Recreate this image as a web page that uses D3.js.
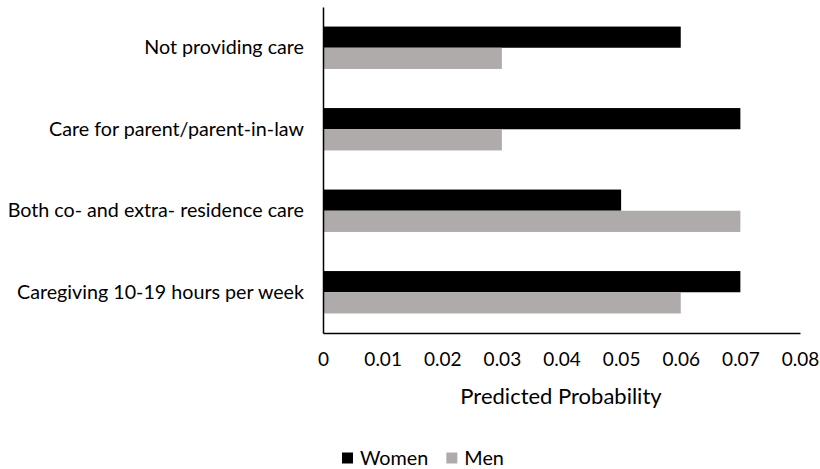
<!DOCTYPE html>
<html>
<head>
<meta charset="utf-8">
<script src="https://cdn.jsdelivr.net/npm/d3@7"></script>
<style>
  body { margin: 0; background: #fff; }
  svg { display: block; }
  text { font-family: Lato, "Noto Sans", sans-serif; fill: #000; }
</style>
</head>
<body>
<svg id="chart" width="820" height="469"></svg>
<script>
// Predicted probability by caregiving status
const categories = [
  "Not providing care",
  "Care for parent/parent-in-law",
  "Both co- and extra- residence care",
  "Caregiving 10-19 hours per week"
];
const seriesNames = ["Women", "Men"];
const women = [0.06, 0.07, 0.05, 0.07];
const men = [0.03, 0.03, 0.07, 0.06];
const xTicks = [0, 0.01, 0.02, 0.03, 0.04, 0.05, 0.06, 0.07, 0.08];
const tickLabels = ["0", "0.01", "0.02", "0.03", "0.04", "0.05", "0.06", "0.07", "0.08"];
const colors = ["#000000", "#afabab"];

const svg = d3.select("#chart");
const plotLeft = 323, plotRight = 800, plotTop = 7, plotBottom = 333;

const x = d3.scaleLinear().domain([0, 0.08]).range([plotLeft, plotRight]);
const y = d3.scaleBand().domain(categories).range([plotTop, plotBottom]).paddingInner(0.48).paddingOuter(0.24);
const sub = d3.scaleBand().domain(seriesNames).range([0, y.bandwidth()]);

const rows = categories.map((c, i) => ({ cat: c, values: [women[i], men[i]] }));

// bars
const g = svg.append("g");
rows.forEach(r => {
  r.values.forEach((v, j) => {
    g.append("rect")
      .attr("x", x(0))
      .attr("y", y(r.cat) + sub(seriesNames[j]))
      .attr("width", x(v) - x(0))
      .attr("height", sub.bandwidth())
      .attr("fill", colors[j]);
  });
});

// x axis
const xAxis = d3.axisBottom(x).tickValues(xTicks).tickFormat((d, i) => tickLabels[i]).tickSize(0).tickPadding(20);
const xg = svg.append("g").attr("transform", `translate(0,${plotBottom})`).call(xAxis);
xg.select(".domain").attr("stroke", "#000").attr("stroke-width", 1.5);
xg.selectAll("text").attr("font-size", 19).attr("font-family", "Lato, sans-serif").attr("fill", "#000");

// y axis
const yAxis = d3.axisLeft(y).tickSize(0).tickPadding(19);
const yg = svg.append("g").attr("transform", `translate(${plotLeft},0)`).call(yAxis);
yg.select(".domain").attr("stroke", "#000").attr("stroke-width", 1.5);
yg.selectAll("text").attr("font-size", 19.7).attr("font-family", "Lato, sans-serif").attr("fill", "#000");

// axis title
svg.append("text")
  .attr("x", 561)
  .attr("y", 404)
  .attr("text-anchor", "middle")
  .attr("font-size", 22)
  .text("Predicted Probability");

// legend
const legend = svg.append("g").attr("transform", "translate(342,458)");
let lx = 0;
seriesNames.forEach((name, i) => {
  legend.append("rect").attr("x", lx).attr("y", -5.5).attr("width", 11).attr("height", 11).attr("fill", colors[i]);
  const t = legend.append("text").attr("x", lx + 18).attr("y", 6.5).attr("font-size", 19.8).text(name);
  lx += 18 + t.node().getComputedTextLength() + 18;
});
</script>
</body>
</html>
